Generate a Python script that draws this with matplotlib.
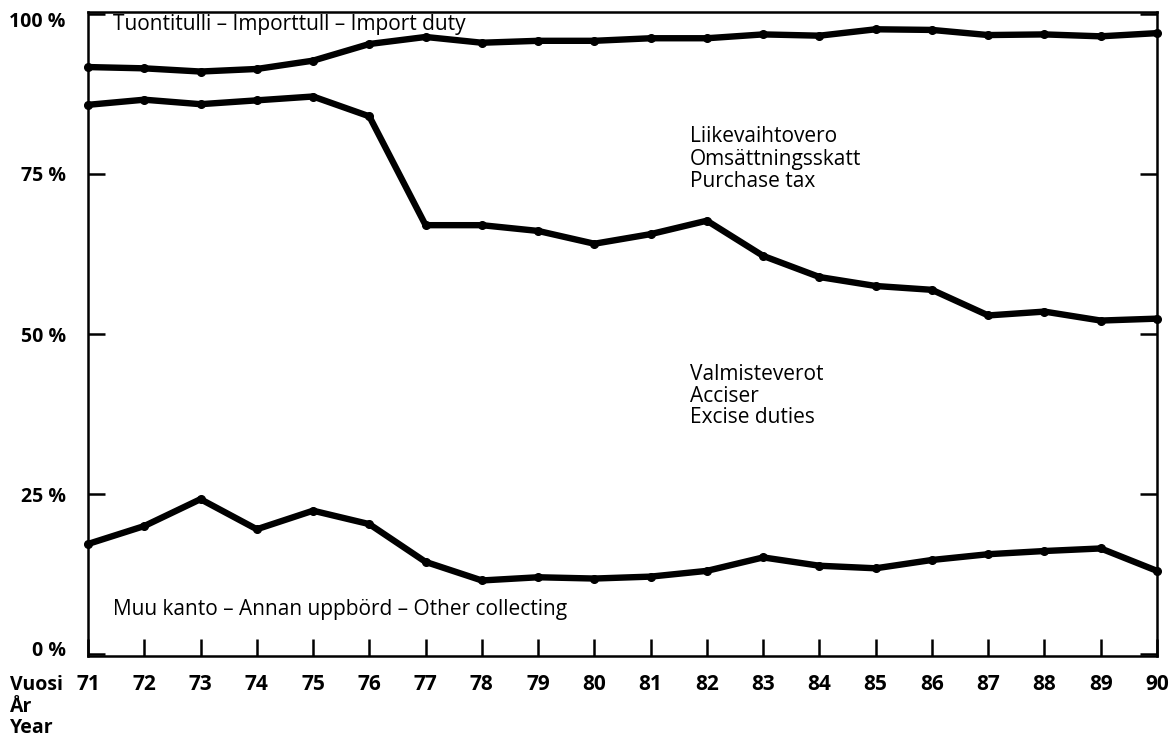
import matplotlib.pyplot as plt
from matplotlib.transforms import ScaledTranslation

plt.rcParams['font.family'] = ['Open Sans', 'DejaVu Sans']

W, H = 1172, 736

# vuodet 1971-1990
years = list(range(71, 91))
year_labels = [str(y) for y in years]

# kumulatiiviset rajat (%), alhaalta ylös
other_top = [17.2, 20.0, 24.2, 19.5, 22.4, 20.3, 14.4, 11.5, 12.0, 11.8,
             12.1, 13.0, 15.1, 13.8, 13.4, 14.7, 15.6, 16.1, 16.5, 13.0]
excise_top = [85.8, 86.6, 85.9, 86.5, 87.1, 84.0, 67.0, 67.0, 66.1, 64.1,
              65.6, 67.7, 62.2, 58.9, 57.5, 56.9, 52.9, 53.5, 52.1, 52.4]
purchase_top = [91.7, 91.5, 91.0, 91.4, 92.7, 95.3, 96.4, 95.5, 95.8, 95.8,
                96.2, 96.2, 96.8, 96.6, 97.6, 97.5, 96.7, 96.8, 96.5, 97.0]

y_ticks = [0, 25, 50, 75, 100]
y_labels = ['0 %', '25 %', '50 %', '75 %', '100 %']


def px(x, y):
    return x / W, 1 - y / H


fig = plt.figure(figsize=(W / 100, H / 100), dpi=100)
l, b = px(88, 656)
r, t = px(1157, 12)
ax = fig.add_axes([l, b, r - l, t - b])

for series in (other_top, excise_top, purchase_top):
    ax.plot(years, series, color='black', lw=4.6, marker='o', ms=5.5,
            solid_joinstyle='round', solid_capstyle='round', clip_on=False)

ax.set_xlim(71, 90)
ax.set_ylim(-0.3, 100.3)

for s in ax.spines.values():
    s.set_linewidth(1.8)

ax.set_xticks(years)
ax.set_xticklabels(year_labels, fontsize=15, fontweight='bold')
ax.set_yticks(y_ticks)
ax.set_yticklabels(y_labels, fontsize=14, fontweight='bold')
ax.tick_params(axis='x', direction='in', length=12, width=1.8, pad=13)
ax.tick_params(axis='y', direction='in', length=12, width=1.8, pad=16,
               right=True)

# 100 % ja 0 % hieman sisäänpäin kuten alkuperäisessä
labs = ax.get_yticklabels()
labs[-1].set_transform(labs[-1].get_transform() +
                       ScaledTranslation(0, -0.06, fig.dpi_scale_trans))
labs[0].set_transform(labs[0].get_transform() +
                      ScaledTranslation(0, 0.06, fig.dpi_scale_trans))

fs = 15
fig.text(*px(113, 30), 'Tuontitulli – Importtull – Import duty', fontsize=fs)
for i, txt in enumerate(['Liikevaihtovero', 'Omsättningsskatt', 'Purchase tax']):
    fig.text(*px(690, 142 + 22.5 * i), txt, fontsize=fs)
for i, txt in enumerate(['Valmisteverot', 'Acciser', 'Excise duties']):
    fig.text(*px(690, 380 + 21.5 * i), txt, fontsize=fs)
fig.text(*px(113, 615), 'Muu kanto – Annan uppbörd – Other collecting', fontsize=fs)

for i, txt in enumerate(['Vuosi', 'År', 'Year']):
    fig.text(*px(10, 690 + 21.5 * i), txt, fontsize=14, fontweight='bold')

fig.savefig('out.png', dpi=100)
